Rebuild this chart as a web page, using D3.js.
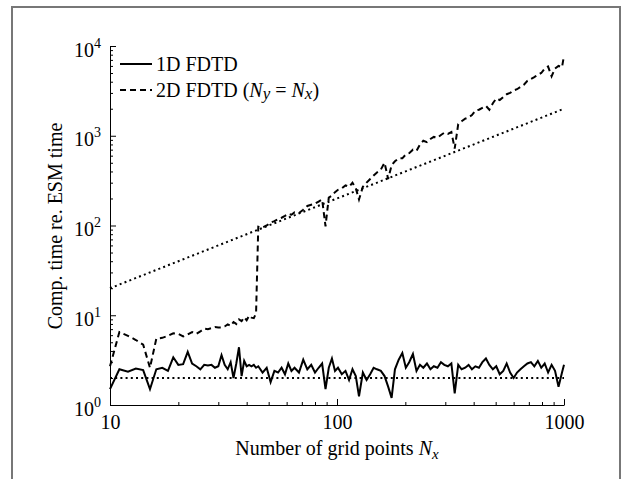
<!DOCTYPE html>
<html><head><meta charset="utf-8">
<script src="https://cdn.jsdelivr.net/npm/d3@7"></script>
<style>
html,body{margin:0;padding:0;background:#fff;}
svg{display:block;font-family:"Liberation Serif","Times New Roman",serif;}
</style></head><body>
<svg id="chart" width="629" height="479"></svg>
<script>
// Grid sizes Nx at which the runs were timed
const nx = [10,11,12,13,14,15,16,17,18,19,20,21,22,23,24,25,26,27,28,29,30,31,32,33,34,35,36,37,38,39,40,41,42,43,44,45,
  47,49,51,53,55,57,59,61,63,65,68,71,74,77,80,83,86,89,92,95,98,
  101,105,109,113,117,121,125,130,135,140,145,150,156,162,168,174,180,187,194,201,208,216,224,232,240,249,258,267,277,287,297,308,319,330,342,354,367,380,393,407,422,437,453,469,486,503,521,540,559,579,600,621,643,666,690,715,740,767,794,822,851,882,913,946,980,1000];

// Computation time relative to ESM time, 1D FDTD
const fdtd1D = [1.5,2.5,2.35,2.55,2.45,1.5,2.5,2.6,2.4,3.4,2.8,2.85,3.9,2.9,2.7,2.5,2.8,2.75,2.8,2.6,2.7,3.6,2.8,2.5,3.0,2.0,2.9,4.4,2.1,3.1,2.7,2.8,2.7,2.8,2.6,2.7,
  2.3,2.6,1.8,2.4,2.3,2.6,2.2,2.9,2.4,2.6,2.3,3.2,2.5,2.8,2.3,2.6,2.9,1.5,2.6,3.3,2.4,
  2.6,2.2,2.4,1.9,2.5,2.1,1.25,2.3,1.9,2.2,2.6,2.5,2.4,2.1,1.6,1.2,2.5,3.2,3.8,2.6,3.0,3.7,2.4,2.8,2.6,2.9,2.5,2.7,2.6,3.0,2.8,2.7,2.9,1.35,2.8,2.5,2.6,2.8,2.5,2.7,2.6,3.0,3.3,2.8,2.5,2.7,2.2,2.4,2.9,2.3,2.0,2.3,2.5,2.7,2.9,3.0,2.7,3.1,2.6,2.9,2.3,2.8,2.4,1.6,2.3,2.8];

// Computation time relative to ESM time, 2D FDTD (Ny = Nx)
const fdtd2D = [2.7,6.5,5.9,5.3,4.7,2.6,5.5,5.6,5.9,6.3,6.2,5.8,6.1,6.5,6.2,6.6,7.1,7.0,7.2,7.4,7.3,7.3,7.5,7.9,7.6,8.4,8.0,9.0,8.6,9.5,8.8,9.9,9.4,9.3,10.5,97,
  95,100,108,112,118,122,128,135,132,140,138,150,165,170,175,185,195,98,205,215,235,
  250,260,280,270,300,260,195,270,300,330,360,390,420,500,330,470,520,560,560,620,640,700,680,800,880,850,920,970,950,1020,1080,1050,1100,720,1350,1450,1550,1600,1700,1900,1950,2050,2150,1950,2300,2600,2500,2700,2900,3000,3200,3300,3500,3700,4100,4300,4500,4800,5000,5600,5900,4600,5600,6000,5800,7800];

// Reference trends: linear growth (2·Nx) and constant factor 2
const refX = [10, 1000];
const refLinear = [20, 2000];
const refFlat = [2, 2];

const xMajor = [10, 100, 1000];
const xMinor = [20,30,40,50,60,70,80,90,200,300,400,500,600,700,800,900];
const yMajor = [1, 10, 100, 1000, 10000];
const yMinor = [2,3,4,5,6,7,8,9,20,30,40,50,60,70,80,90,200,300,400,500,600,700,800,900,2000,3000,4000,5000,6000,7000,8000,9000];

(function draw() {
  const svg = d3.select("#chart");
  const mLeft = 110, mRight = 564, mTop = 46, mBottom = 405;

  // outer frame
  svg.append("path")
    .attr("d", "M12,479V7H620V479")
    .attr("fill", "none").attr("stroke", "#777").attr("stroke-width", 2);

  const x = d3.scaleLog().domain([10, 1000]).range([mLeft, mRight]);
  const y = d3.scaleLog().domain([1, 10000]).range([mBottom, mTop]);

  // x axis: minor then major ticks, pointing inward
  svg.append("g").attr("transform", `translate(0,${mBottom})`)
    .call(d3.axisBottom(x).tickValues(xMinor).tickSizeInner(-3).tickSizeOuter(0).tickFormat(""))
    .call(g => g.select(".domain").remove());
  const gx = svg.append("g").attr("transform", `translate(0,${mBottom})`)
    .call(d3.axisBottom(x).tickValues(xMajor).tickSizeInner(-6).tickSizeOuter(0)
      .tickPadding(10).tickFormat(d3.format("d")));
  gx.selectAll("text").attr("font-size", 20).attr("fill", "#000")
    .attr("font-family", "Liberation Serif");

  // y axis
  svg.append("g").attr("transform", `translate(${mLeft},0)`)
    .call(d3.axisLeft(y).tickValues(yMinor).tickSizeInner(-3).tickSizeOuter(0).tickFormat(""))
    .call(g => g.select(".domain").remove());
  const gy = svg.append("g").attr("transform", `translate(${mLeft},0)`)
    .call(d3.axisLeft(y).tickValues(yMajor).tickSizeInner(-6).tickSizeOuter(0).tickPadding(9));
  gy.selectAll("text").each(function(d) {
    const t = d3.select(this).text(null).attr("dy", null).attr("y", 10)
      .attr("font-size", 20).attr("fill", "#000").attr("font-family", "Liberation Serif");
    t.append("tspan").text("10");
    t.append("tspan").attr("dy", -9).attr("font-size", 14).text(Math.round(Math.log10(d)));
  });
  svg.selectAll(".domain").attr("stroke", "#000");
  svg.selectAll(".tick line").attr("stroke", "#000");

  // reference lines
  const line = d3.line().x(d => x(d[0])).y(d => y(d[1]));
  [refLinear, refFlat].forEach(vals => {
    svg.append("path").datum(refX.map((v, i) => [v, vals[i]]))
      .attr("d", line).attr("fill", "none").attr("stroke", "#000")
      .attr("stroke-width", 2).attr("stroke-dasharray", "2,3.2");
  });

  // measured series
  svg.append("path").datum(nx.map((v, i) => [v, fdtd2D[i]]))
    .attr("d", line).attr("fill", "none").attr("stroke", "#000")
    .attr("stroke-width", 2).attr("stroke-dasharray", "6,4");
  svg.append("path").datum(nx.map((v, i) => [v, fdtd1D[i]]))
    .attr("d", line).attr("fill", "none").attr("stroke", "#000")
    .attr("stroke-width", 2);

  // legend
  const leg = svg.append("g");
  leg.append("line").attr("x1", 120).attr("x2", 152).attr("y1", 64).attr("y2", 64)
    .attr("stroke", "#000").attr("stroke-width", 2);
  leg.append("text").attr("x", 156).attr("y", 71).attr("font-size", 20).text("1D FDTD");
  leg.append("line").attr("x1", 120).attr("x2", 152).attr("y1", 90).attr("y2", 90)
    .attr("stroke", "#000").attr("stroke-width", 2).attr("stroke-dasharray", "6,4");
  const l2 = leg.append("text").attr("x", 156).attr("y", 97).attr("font-size", 20);
  l2.append("tspan").text("2D FDTD (");
  l2.append("tspan").attr("font-style", "italic").text("N");
  l2.append("tspan").attr("font-style", "italic").attr("font-size", 17).attr("dy", 2).text("y");
  l2.append("tspan").attr("dy", -2).text(" = ");
  l2.append("tspan").attr("font-style", "italic").text("N");
  l2.append("tspan").attr("font-style", "italic").attr("font-size", 17).attr("dy", 2).text("x");
  l2.append("tspan").attr("dy", -2).text(")");

  // axis titles
  const xt = svg.append("text").attr("x", 337).attr("y", 455)
    .attr("text-anchor", "middle").attr("font-size", 20);
  xt.append("tspan").text("Number of grid points ");
  xt.append("tspan").attr("font-style", "italic").text("N");
  xt.append("tspan").attr("font-style", "italic").attr("font-size", 15).attr("dy", 4).text("x");

  svg.append("text").attr("transform", "translate(62,226) rotate(-90)")
    .attr("text-anchor", "middle").attr("font-size", 20)
    .text("Comp. time re. ESM time");
})();
</script>
</body></html>
